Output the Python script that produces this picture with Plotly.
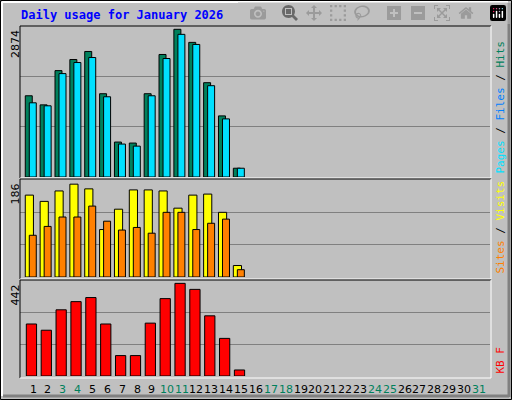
import plotly.graph_objects as go

days = list(range(1, 32))
bar_days = list(range(1, 16))
hits = [1546, 1373, 2025, 2236, 2389, 1585, 665, 646, 1585, 2332, 2811, 2562, 1795, 1163, 167]
files = [1412, 1355, 1968, 2179, 2274, 1527, 627, 588, 1546, 2255, 2715, 2523, 1738, 1106, 167]
visits = [157, 145, 165, 178, 169, 91, 130, 167, 167, 165, 132, 157, 159, 124, 22]
sites = [80, 97, 115, 115, 136, 107, 90, 95, 84, 124, 124, 91, 103, 111, 14]
kbytes = [242, 213, 308, 346, 365, 242, 95, 95, 246, 360, 431, 403, 280, 175, 28]
max_hits, max_visits, max_kb = 2874, 186, 442
weekend = {3, 4, 10, 11, 17, 18, 24, 25, 31}

W, H = 512, 400
def px(x): return x / W
def py(y): return 1 - y / H

fig = go.Figure()
ol = dict(color="black", width=1)
fig.add_bar(x=bar_days, y=hits, width=0.47, offset=-0.52, marker=dict(color="#00805c", line=ol), xaxis="x", yaxis="y")
fig.add_bar(x=bar_days, y=files, width=0.47, offset=-0.25, marker=dict(color="#00e0ff", line=ol), xaxis="x", yaxis="y")
fig.add_bar(x=bar_days, y=visits, width=0.55, offset=-0.52, marker=dict(color="#ffff00", line=ol), xaxis="x2", yaxis="y2")
fig.add_bar(x=bar_days, y=sites, width=0.47, offset=-0.25, marker=dict(color="#ff8000", line=ol), xaxis="x2", yaxis="y2")
fig.add_bar(x=bar_days, y=kbytes, width=0.69, offset=-0.45, marker=dict(color="#ff0000", line=ol), xaxis="x3", yaxis="y3")

xr = [0.125, 31.75]
xd = [px(20), px(490)]
common_x = dict(range=xr, domain=xd, showticklabels=False, showgrid=False, zeroline=False, ticks="")
def yax(top, bot, mx, anchor):
    return dict(range=[0, mx], domain=[py(bot), py(top)], tickvals=[mx / 3, 2 * mx / 3],
                showticklabels=False, showgrid=True, gridcolor="#808080", gridwidth=1,
                zeroline=False, ticks="", anchor=anchor)

fig.update_layout(
    width=W, height=H, margin=dict(l=0, r=0, t=0, b=0),
    paper_bgcolor="#c0c0c0", plot_bgcolor="#c0c0c0", showlegend=False, barmode="overlay",
    xaxis=dict(common_x, anchor="y"), xaxis2=dict(common_x, anchor="y2"), xaxis3=dict(common_x, anchor="y3"),
    yaxis=yax(26, 177, max_hits, "x"), yaxis2=yax(180, 277, max_visits, "x2"), yaxis3=yax(281, 376, max_kb, "x3"),
)

shapes = []
def line(x0, y0, x1, y1, c, w=1):
    shapes.append(dict(type="line", xref="paper", yref="paper", x0=px(x0), y0=py(y0), x1=px(x1), y1=py(y1), line=dict(color=c, width=w)))
shapes.append(dict(type="rect", xref="paper", yref="paper", x0=px(0.5), y0=py(399.5), x1=px(511.5), y1=py(0.5), line=dict(color="black", width=1)))
line(2, 2, 508, 2, "white", 2); line(2, 2, 2, 396, "white", 2)
line(3, 396, 509, 396, "#808080", 3); line(509, 3, 509, 397, "#808080", 3)
for t, b in [(26, 178), (179, 279), (280, 378)]:
    line(20, t, 491, t, "black"); line(20, t, 20, b, "black")
    line(20, b, 491, b, "white"); line(491, t, 491, b, "white")
fig.update_layout(shapes=shapes)

ann = []
ann.append(dict(x=px(19), y=py(15), xref="paper", yref="paper", xanchor="left", yanchor="middle", showarrow=False,
                text="<b>Daily usage for January 2026</b>", font=dict(family="DejaVu Sans Mono", size=12, color="#0000ff")))
for label, ymid_top in [(str(max_hits), 28), (str(max_visits), 182), (str(max_kb), 283)]:
    ann.append(dict(x=px(15), y=py(ymid_top), xref="paper", yref="paper", xanchor="center", yanchor="top", textangle=-90,
                    showarrow=False, text=label, font=dict(family="DejaVu Sans", size=11, color="black")))
def rlab(text, ybot):
    ann.append(dict(x=px(500), y=py(ybot), xref="paper", yref="paper", xanchor="center", yanchor="bottom", textangle=-90,
                    showarrow=False, text=text, font=dict(family="DejaVu Sans Mono", size=11, color="black")))
rlab('<span style="color:#00e0ff">Pages</span> / <span style="color:#0080ff">Files</span> / <span style="color:#00805c">Hits</span>', 176)
rlab('<span style="color:#ff8000">Sites</span> / <span style="color:#ffff00">Visits</span>', 276)
rlab('<span style="color:#ff0000">KB F</span>', 376)
for d in days:
    ann.append(dict(x=d, y=py(389), xref="x3", yref="paper", xanchor="center", yanchor="middle", showarrow=False,
                    text=str(d), font=dict(family="DejaVu Sans", size=11, color="#00805c" if d in weekend else "black")))
fig.update_layout(annotations=ann)
fig.write_html("out.html", post_script="document.body.style.margin='0';document.body.style.overflow='hidden';")
